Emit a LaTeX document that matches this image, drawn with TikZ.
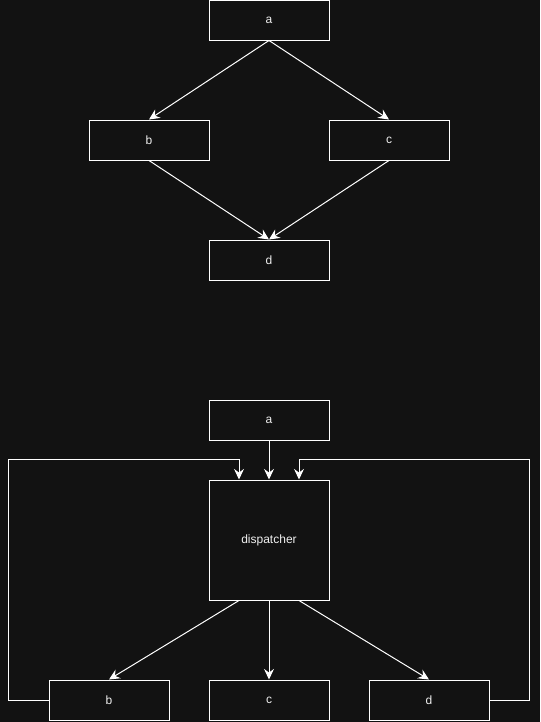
\documentclass[tikz,border=0pt]{standalone}
\usepackage{fontspec}
\setmainfont{Liberation Sans}
\usepackage{tikz}
\usetikzlibrary{arrows.meta}

\definecolor{bg}{HTML}{121212}
\definecolor{ink}{HTML}{F0F0F0}

\begin{document}
\begin{tikzpicture}[x=0.75pt, y=-0.75pt, line width=0.75pt,
    box/.style={draw=white, fill=bg, text=ink, font=\fontsize{9}{11}\selectfont,
      minimum width=90pt, minimum height=30pt, inner sep=0pt},
    arr/.style={draw=white, -{Stealth[length=8pt, width=7.5pt, inset=2.8pt]}}]
    \fill[bg] (0,0) rectangle (540,722);
    \useasboundingbox (0,0) rectangle (540,722);
    % top graph
    \node (a1) [box] at (269,20) {a};
    \node (b1) [box] at (149,140) {b};
    \node (c1) [box] at (389,140) {c};
    \node (d1) [box] at (269,260) {d};
    \draw[arr] (a1.south) -- (b1.north);
    \draw[arr] (a1.south) -- (c1.north);
    \draw[arr] (b1.south) -- (d1.north);
    \draw[arr] (c1.south) -- (d1.north);
    % dispatcher graph
    \node (a2) [box] at (269,420) {a};
    \node (disp) [box, minimum height=90pt] at (269,540) {dispatcher};
    \node (b2) [box] at (109,700) {b};
    \node (c2) [box] at (269,700) {c};
    \node (d2) [box] at (429,700) {d};
    \draw[arr] (a2.south) -- (disp.north);
    \draw[arr] ([xshift=-22.5pt]disp.south) -- (b2.north);
    \draw[arr] (disp.south) -- (c2.north);
    \draw[arr] ([xshift=22.5pt]disp.south) -- (d2.north);
    \draw[arr] (b2.west) -- ++(-40,0)
    |- ([xshift=-22.5pt, yshift=15pt]disp.north) -- ([xshift=-22.5pt]disp.north);
    \draw[arr] (d2.east) -- ++(40,0)
    |- ([xshift=22.5pt, yshift=15pt]disp.north) -- ([xshift=22.5pt]disp.north);
  \end{tikzpicture}
\end{document}
